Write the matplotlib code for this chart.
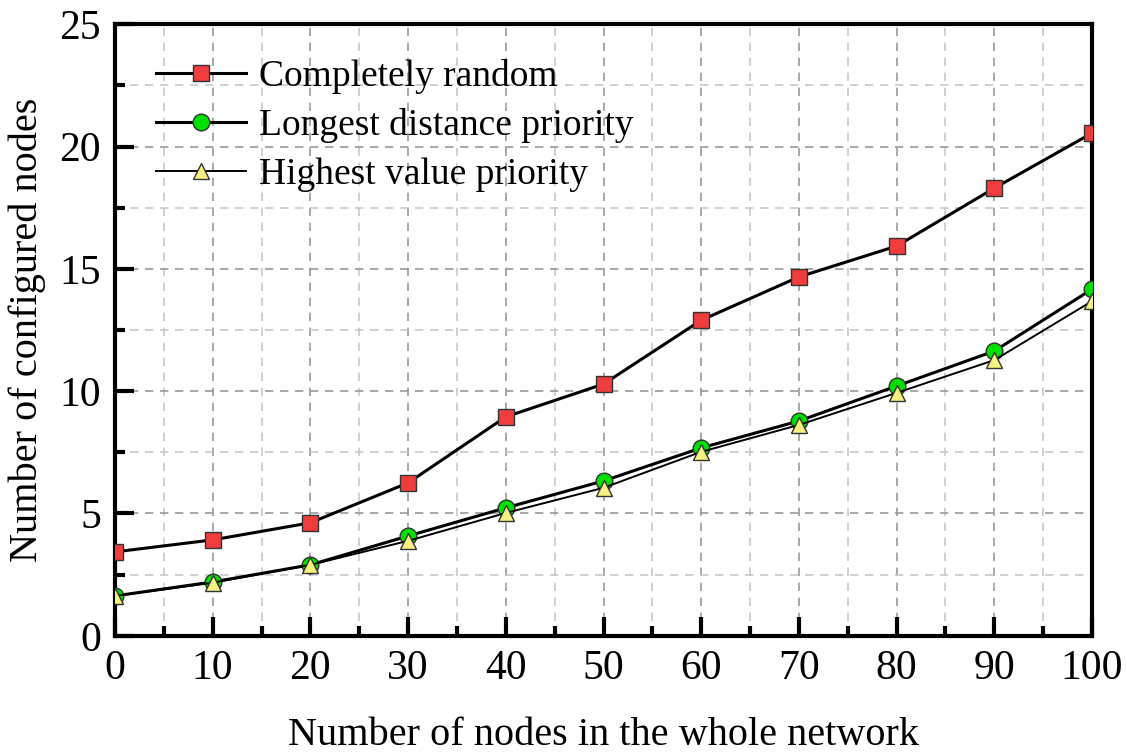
import numpy as np
import matplotlib.pyplot as plt
from matplotlib.ticker import MultipleLocator

plt.rcParams['font.family'] = ['Liberation Serif', 'DejaVu Serif']

nodes = [0, 10, 20, 30, 40, 50, 60, 70, 80, 90, 100]
random_sel = [3.43, 3.92, 4.62, 6.25, 8.95, 10.29, 12.9, 14.67, 15.93, 18.3, 20.55]
longest = [1.63, 2.2, 2.9, 4.08, 5.23, 6.33, 7.68, 8.78, 10.21, 11.64, 14.17]
highest = [1.63, 2.17, 2.9, 3.88, 5.02, 6.05, 7.52, 8.62, 9.93, 11.27, 13.68]

fig = plt.figure(figsize=(11.27, 7.56), dpi=100)
ax = fig.add_axes([0.102, 0.159, 0.867, 0.809])

ax.plot(nodes, random_sel, color='black', lw=2.2, marker='s', ms=11,
        mfc='#f03c3c', mec='#333333', mew=1, label='Completely random', zorder=3)
ax.plot(nodes, longest, color='black', lw=2.2, marker='o', ms=12,
        mfc='#00e000', mec='#333333', mew=1, label='Longest distance priority', zorder=3)
ax.plot(nodes, highest, color='black', lw=1.4, marker='^', ms=12,
        mfc='#f5f080', mec='#333333', mew=1, label='Highest value priority', zorder=4)

ax.set_xlim(0, 100)
ax.set_ylim(0, 25)
ax.xaxis.set_major_locator(MultipleLocator(10))
ax.xaxis.set_minor_locator(MultipleLocator(5))
ax.yaxis.set_major_locator(MultipleLocator(5))
ax.yaxis.set_minor_locator(MultipleLocator(2.5))

ax.grid(which='major', color='#999999', ls=(0, (5, 4)), lw=1.2)
ax.grid(which='minor', color='#c8c8c8', ls=(0, (5, 4)), lw=1.2)
ax.set_axisbelow(True)

for s in ax.spines.values():
    s.set_linewidth(3)
ax.tick_params(which='major', direction='in', length=14, width=3, labelsize=30, pad=10)
ax.tick_params(which='minor', direction='in', length=7, width=3)

ax.set_xlabel('Number of nodes in the whole network', fontsize=29, labelpad=21)
ax.set_ylabel('Number of configured nodes', fontsize=29, labelpad=10)

ax.legend(loc='upper left', bbox_to_anchor=(0.027, 0.968), frameon=False,
          fontsize=27, handlelength=2.4, handletextpad=0.35, labelspacing=0.38,
          borderaxespad=0)

fig.savefig('out.png', dpi=100)
